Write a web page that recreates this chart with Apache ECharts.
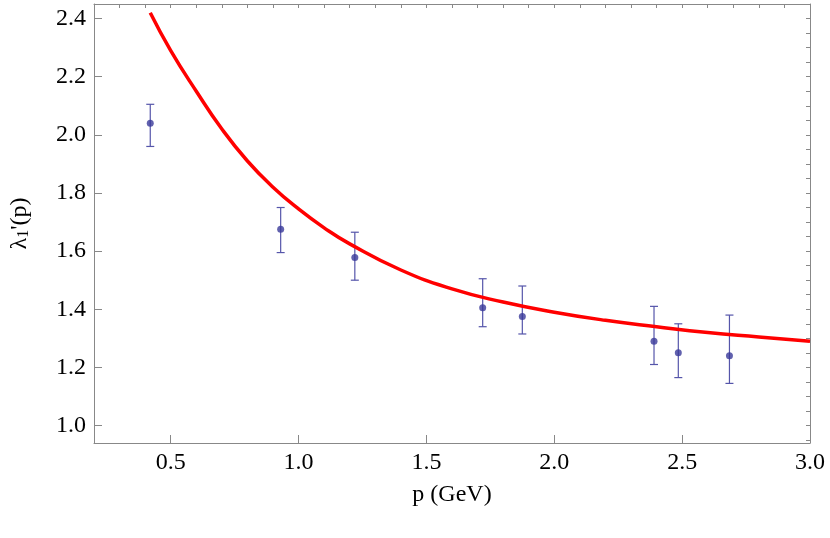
<!DOCTYPE html><html><head><meta charset="utf-8"><script src="https://cdn.jsdelivr.net/npm/echarts@6/dist/echarts.min.js"></script></head><body style="margin:0"><div id="c" style="width:830px;height:538px"></div><script>
const px=[0.42,0.93,1.22,1.72,1.875,2.39,2.485,2.685];
const py=[2.04,1.675,1.578,1.405,1.375,1.29,1.25,1.24];
const lo=[1.96,1.595,1.50,1.34,1.315,1.21,1.165,1.145];
const hi=[2.105,1.75,1.665,1.505,1.48,1.41,1.35,1.38];
const cx=[0.42,0.5,0.6,0.7,0.8,0.9,1.0,1.1,1.2,1.4,1.6,1.8,2.0,2.2,2.4,2.6,2.8,3.0];
const cy=[2.42,2.29,2.15,2.02,1.91,1.82,1.745,1.68,1.625,1.535,1.47,1.425,1.39,1.362,1.34,1.32,1.305,1.29];
const F='Liberation Serif';
function ax(min,max,intv,name,gap,fmt){return {min:min,max:max,interval:intv,name:name,nameLocation:'middle',nameGap:gap,
 axisLine:{onZero:false,lineStyle:{color:'#888'}},axisTick:{inside:true,length:8,lineStyle:{color:'#888'}},
 minorTick:{show:false},splitLine:{show:false},
 axisLabel:{color:'#000',fontFamily:F,fontSize:24,formatter:fmt,showMinLabel:true},
 nameTextStyle:{color:'#000',fontFamily:F,fontSize:24,rich:{s:{fontFamily:F,fontSize:16,padding:[8,0,0,0]}}}};}
const xa=ax(0.2,3.0,0.5,'p (GeV)',40,v=>v.toFixed(1));
xa.axisLabel.customValues=[0.5,1,1.5,2,2.5,3];xa.axisTick.customValues=[0.5,1,1.5,2,2.5,3];
const ya=ax(0.94,2.45,0.2,'λ{s|1}\'(p)',62,v=>v.toFixed(1));
ya.axisLabel.customValues=[1,1.2,1.4,1.6,1.8,2.0,2.2,2.4];ya.axisTick.customValues=[1,1.2,1.4,1.6,1.8,2.0,2.2,2.4];
const xm=[],ym=[];for(let i=3;i<=30;i++)xm.push(i/10);for(let i=19;i<=49;i++)ym.push(+(i*0.05).toFixed(2));
const xTop={...xa,position:'top',axisLabel:{show:false},name:'',axisTick:{inside:true,length:4,customValues:xm,lineStyle:{color:'#888'}}};
const yRight={...ya,position:'right',axisLabel:{show:false},name:'',axisTick:{inside:true,length:4,customValues:ym,lineStyle:{color:'#888'}}};
const ch=echarts.init(document.getElementById('c'));
ch.setOption({animation:false,grid:{left:92,right:20,top:4,bottom:95},
 xAxis:[xa,xTop],yAxis:[ya,yRight],
 series:[
 {type:'line',data:cx.map((x,i)=>[x,cy[i]]),smooth:true,showSymbol:false,lineStyle:{color:'#ff0000',width:3.5},z:3},
 {type:'custom',data:px.map((x,i)=>[x,lo[i],hi[i]]),renderItem:(p,api)=>{const a=api.coord([api.value(0),api.value(1)]),b=api.coord([api.value(0),api.value(2)]);
  const s={stroke:'#5555aa',lineWidth:1.2};return {type:'group',children:[
  {type:'line',shape:{x1:a[0],y1:a[1],x2:b[0],y2:b[1]},style:s},
  {type:'line',shape:{x1:a[0]-4,y1:a[1],x2:a[0]+4,y2:a[1]},style:s},
  {type:'line',shape:{x1:b[0]-4,y1:b[1],x2:b[0]+4,y2:b[1]},style:s}]};},z:2},
 {type:'scatter',data:px.map((x,i)=>[x,py[i]]),symbolSize:7,itemStyle:{color:'#3a3a9a'},z:4}
 ]});
</script></body></html>
